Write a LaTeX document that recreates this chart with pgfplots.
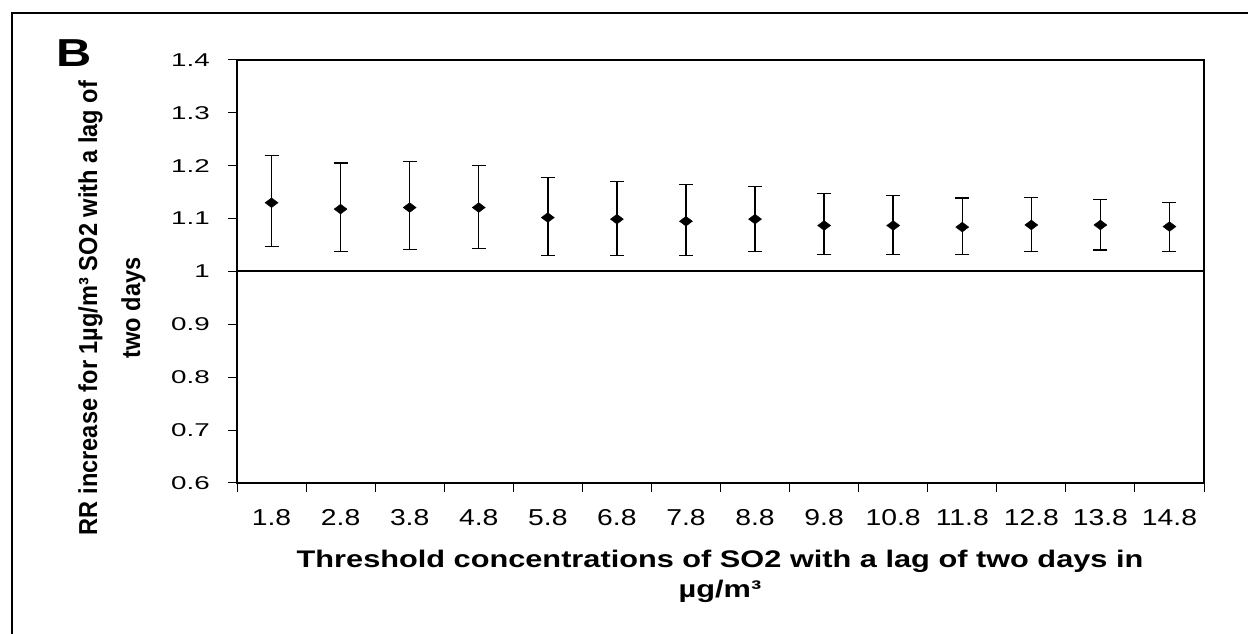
\documentclass[border=0pt]{standalone}
\usepackage{fontspec}
\setmainfont{Liberation Sans}
\usepackage{graphicx}
\usepackage{pgfplots}
\pgfplotsset{compat=1.18}
\usepackage{pgfplotstable}

\pgfplotstableread{
x y ep em
0 1.130 0.089 0.083
1 1.118 0.087 0.080
2 1.121 0.087 0.079
3 1.121 0.080 0.078
4 1.102 0.076 0.072
5 1.099 0.071 0.069
6 1.095 0.070 0.065
7 1.099 0.062 0.061
8 1.087 0.060 0.055
9 1.087 0.057 0.055
10 1.084 0.055 0.052
11 1.088 0.052 0.050
12 1.088 0.048 0.047
13 1.085 0.046 0.047
}\rrdata

\newcommand{\xt}[1]{\scalebox{1.23}[1]{#1}}
\newcommand{\yt}[1]{\scalebox{1.5}[1]{#1}}

\begin{document}
\begin{tikzpicture}[x=1pt,y=1pt]
\begin{axis}[
  at={(237pt,151pt)}, anchor=south west,
  width=967pt, height=423pt, scale only axis,
  xmin=-0.5, xmax=13.5, ymin=0.6, ymax=1.4,
  axis line style={black, line width=1.3pt},
  tick align=outside,
  tick style={black, line width=1pt},
  major tick length=0pt,
  minor tick length=9pt,
  xtick={0,1,2,3,4,5,6,7,8,9,10,11,12,13},
  xticklabels={\xt{1.8},\xt{2.8},\xt{3.8},\xt{4.8},\xt{5.8},\xt{6.8},\xt{7.8},\xt{8.8},\xt{9.8},\xt{10.8},\xt{11.8},\xt{12.8},\xt{13.8},\xt{14.8}},
  minor xtick={-0.5,0.5,1.5,2.5,3.5,4.5,5.5,6.5,7.5,8.5,9.5,10.5,11.5,12.5,13.5},
  ytick={0.6,0.7,0.8,0.9,1,1.1,1.2,1.3,1.4},
  yticklabels={\yt{0.6},\yt{0.7},\yt{0.8},\yt{0.9},\yt{1},\yt{1.1},\yt{1.2},\yt{1.3},\yt{1.4}},
  minor ytick={0.6,0.7,0.8,0.9,1,1.1,1.2,1.3,1.4},
  xtick pos=bottom, ytick pos=left,
  xticklabel style={font=\fontsize{23}{23}\selectfont, inner sep=0pt, anchor=north, yshift=-26pt},
  yticklabel style={font=\fontsize{18.5}{18.5}\selectfont, inner sep=0pt, anchor=east, xshift=-27pt},
  clip=false,
]
\addplot[black, line width=2pt, forget plot] coordinates {(-0.5,1) (13.5,1)};
% error bars (drawn without markers)
\addplot[draw=none, mark=none, forget plot,
  error bars/.cd, y dir=both, y explicit,
  error bar style={line width=1.4pt, black},
  error mark=|,
  error mark options={line width=1.4pt, mark size=7pt, black}]
  table[x=x, y=y, y error plus=ep, y error minus=em] {\rrdata};
% diamond markers
\addplot[only marks, mark=diamond*, mark size=6.5pt, black,
  mark options={rotate=90}]
  table[x=x, y=y] {\rrdata};
\end{axis}

% outer frame (top and left edges visible)
\draw[line width=2pt] (12,0) -- (12,621) -- (1248,621);

% panel letter
\node[anchor=base west, inner sep=0pt, font=\fontsize{39}{39}\selectfont\bfseries] at (56,567) {\scalebox{1.25}[1]{B}};

% y label
\node[rotate=90, anchor=base, inner sep=0pt, font=\fontsize{23.6}{23.6}\selectfont\bfseries] at (97,326) {\scalebox{1}[1.1]{RR increase for 1µg/m³ SO2 with a lag of}};
\node[rotate=90, anchor=base, inner sep=0pt, font=\fontsize{23.6}{23.6}\selectfont\bfseries] at (140,326) {\scalebox{1}[1.1]{two days}};

% x label
\node[anchor=base, inner sep=0pt, font=\fontsize{24}{24}\selectfont\bfseries] at (720,66) {\scalebox{1.28}[1]{Threshold concentrations of SO2 with a lag of two days in}};
\node[anchor=base, inner sep=0pt, font=\fontsize{24}{24}\selectfont\bfseries] at (720,36) {\scalebox{1.28}[1]{µg/m³}};

\pgfresetboundingbox
\path[use as bounding box] (0,0) rectangle (1248,634);
\end{tikzpicture}
\end{document}
